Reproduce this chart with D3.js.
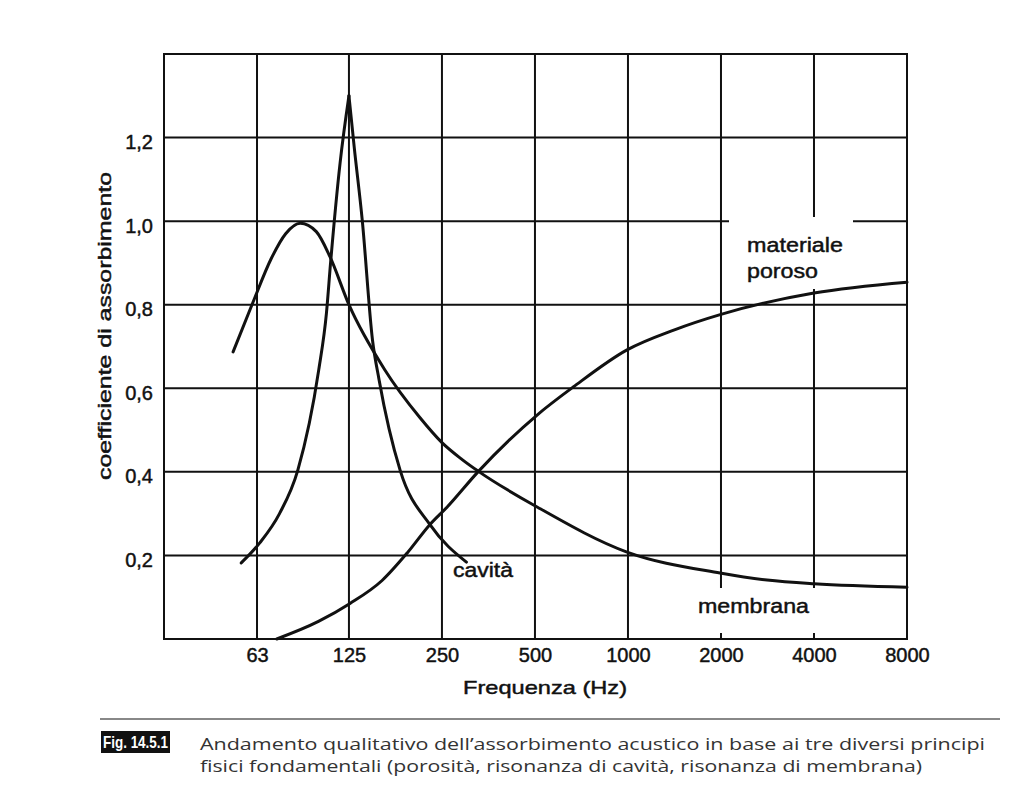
<!DOCTYPE html>
<html><head><meta charset="utf-8">
<script src="https://cdn.jsdelivr.net/npm/d3@7"></script>
<style>body{margin:0;background:#fff}svg{display:block}</style>
</head><body><svg id="c" width="1023" height="800"></svg>
<script>
// ---- data ----
const freqTicks = [63, 125, 250, 500, 1000, 2000, 4000, 8000];
const freqTickLabels = ["63", "125", "250", "500", "1000", "2000", "4000", "8000"];
const valueTicks = [0.2, 0.4, 0.6, 0.8, 1.0, 1.2];
const valueTickLabels = ["0,2", "0,4", "0,6", "0,8", "1,0", "1,2"];

const membranaFreq = [52.7, 61, 70, 78, 87, 98, 108.5, 125, 163, 212, 250, 290, 330, 508, 993, 1985, 2820, 4000, 8000];
const membranaVal  = [0.687, 0.804, 0.91, 0.97, 0.995, 0.975, 0.915, 0.80, 0.645, 0.53, 0.47, 0.43, 0.40, 0.316, 0.208, 0.158, 0.141, 0.132, 0.124];

const cavitaFreq = [56, 64.3, 74.5, 85.4, 99.8, 105.7, 109, 117, 125, 130, 138, 149, 156.5, 183, 229, 300];
const cavitaVal  = [0.182, 0.23, 0.30, 0.404, 0.644, 0.78, 0.90, 1.139, 1.30, 1.177, 1.003, 0.715, 0.62, 0.404, 0.273, 0.184];

const porosoFreq = [73, 99.6, 126, 160, 193, 228, 260, 327, 508, 665, 993, 1414, 2000, 4000, 8000];
const porosoVal  = [0.0, 0.042, 0.085, 0.14, 0.206, 0.273, 0.316, 0.40, 0.536, 0.603, 0.692, 0.74, 0.777, 0.828, 0.854];

const xTitle = "Frequenza (Hz)";
const yTitle = "coefficiente di assorbimento";
const figLabel = "Fig. 14.5.1";
const captionLines = ["Andamento qualitativo dell\u2019assorbimento acustico in base ai tre diversi principi",
                      "fisici fondamentali (porosit\u00e0, risonanza di cavit\u00e0, risonanza di membrana)"];

// ---- layout ----
const L = 164, R = 907, T = 54, B = 639;
const svg = d3.select("#c");
const x = d3.scaleLog().base(2).domain([31.5, 8000]).range([L, R]);
const y = d3.scaleLinear().domain([0, 1.4]).range([B, T]);
const ink = "#111";
const font = "'Liberation Sans', Arial, sans-serif";

// grid
const g = svg.append("g");
g.selectAll(".hg").data(valueTicks).enter().append("line")
  .attr("x1", L).attr("x2", R).attr("y1", d => y(d)).attr("y2", d => y(d))
  .attr("stroke", ink).attr("stroke-width", 2);
g.selectAll(".vg").data(freqTicks.slice(0, -1)).enter().append("line")
  .attr("y1", T).attr("y2", B).attr("x1", d => x(d)).attr("x2", d => x(d))
  .attr("stroke", ink).attr("stroke-width", 2);

// label clearings
svg.append("rect").attr("x", 729).attr("y", 217).attr("width", 124).attr("height", 72).attr("fill", "#fff");
svg.append("rect").attr("x", 690).attr("y", 588).attr("width", 140).attr("height", 49).attr("fill", "#fff");

// small bottom ticks under membrana label
svg.selectAll(".bt").data([2000, 4000]).enter().append("line")
  .attr("x1", d => x(d)).attr("x2", d => x(d)).attr("y1", B - 6).attr("y2", B)
  .attr("stroke", ink).attr("stroke-width", 2);

// frame
svg.append("rect").attr("x", L).attr("y", T).attr("width", R - L).attr("height", B - T)
  .attr("fill", "none").attr("stroke", ink).attr("stroke-width", 2);

// axes labels
const styleText = sel => sel.attr("font-family", font).attr("fill", ink)
  .attr("stroke", ink).attr("stroke-width", 0.45);
const xAxis = d3.axisBottom(x).tickValues(freqTicks).tickFormat((d, i) => freqTickLabels[i]).tickSize(0).tickPadding(10);
const xa = svg.append("g").attr("transform", `translate(0,${B})`).call(xAxis);
xa.select(".domain").remove();
xa.selectAll("text").call(styleText).attr("font-size", 20).attr("dy", "0.71em").attr("y", 9);

const yAxis = d3.axisLeft(y).tickValues(valueTicks).tickFormat((d, i) => valueTickLabels[i]).tickSize(0).tickPadding(11);
const ya = svg.append("g").attr("transform", `translate(${L},0)`).call(yAxis);
ya.select(".domain").remove();
ya.selectAll("text").call(styleText).attr("font-size", 20).attr("dy", "0.55em");

svg.append("text").attr("x", 545).attr("y", 694).attr("text-anchor", "middle")
  .call(styleText).attr("font-size", 19)
  .attr("textLength", 164).attr("lengthAdjust", "spacingAndGlyphs").text(xTitle);
svg.append("text").attr("transform", "translate(111,326) rotate(-90)").attr("text-anchor", "middle")
  .call(styleText).attr("font-size", 19)
  .attr("textLength", 308).attr("lengthAdjust", "spacingAndGlyphs").text(yTitle);

// curves
const line = d3.line().x(d => x(d[0])).y(d => y(d[1])).curve(d3.curveMonotoneX);
function drawSeries(fr, vals) {
  svg.append("path").datum(fr.map((f, i) => [f, vals[i]]))
    .attr("d", line).attr("fill", "none").attr("stroke", ink).attr("stroke-width", 3)
    .attr("stroke-linejoin", "round").attr("stroke-linecap", "round");
}
drawSeries(membranaFreq, membranaVal);
drawSeries(porosoFreq, porosoVal);
const peak = cavitaVal.indexOf(d3.max(cavitaVal));
drawSeries(cavitaFreq.slice(0, peak + 1), cavitaVal.slice(0, peak + 1));
drawSeries(cavitaFreq.slice(peak), cavitaVal.slice(peak));

// curve labels
const lab = (t, px, py, w) => svg.append("text").attr("x", px).attr("y", py)
  .call(styleText).attr("font-size", 20)
  .attr("textLength", w).attr("lengthAdjust", "spacingAndGlyphs").text(t);
lab("materiale", 747, 252, 96);
lab("poroso", 747, 278, 71);
lab("cavit\u00e0", 453, 577, 60);
lab("membrana", 698, 613, 111);

// caption
svg.append("line").attr("x1", 100).attr("x2", 1000).attr("y1", 719).attr("y2", 719)
  .attr("stroke", "#888").attr("stroke-width", 2);
svg.append("rect").attr("x", 101).attr("y", 731).attr("width", 69).attr("height", 22).attr("fill", "#111");
svg.append("text").attr("x", 103).attr("y", 748).attr("font-family", font).attr("font-weight", "bold")
  .attr("font-size", 17).attr("fill", "#fff").attr("textLength", 65).attr("lengthAdjust", "spacingAndGlyphs").text(figLabel);
const capLens = [785, 722];
captionLines.forEach((t, i) => {
  svg.append("text").attr("x", 200).attr("y", 750 + i * 22)
    .attr("font-family", "'Open Sans', 'Noto Sans', sans-serif").attr("font-size", 16).attr("fill", "#333")
    .attr("textLength", capLens[i]).attr("lengthAdjust", "spacingAndGlyphs").text(t);
});
</script></body></html>
